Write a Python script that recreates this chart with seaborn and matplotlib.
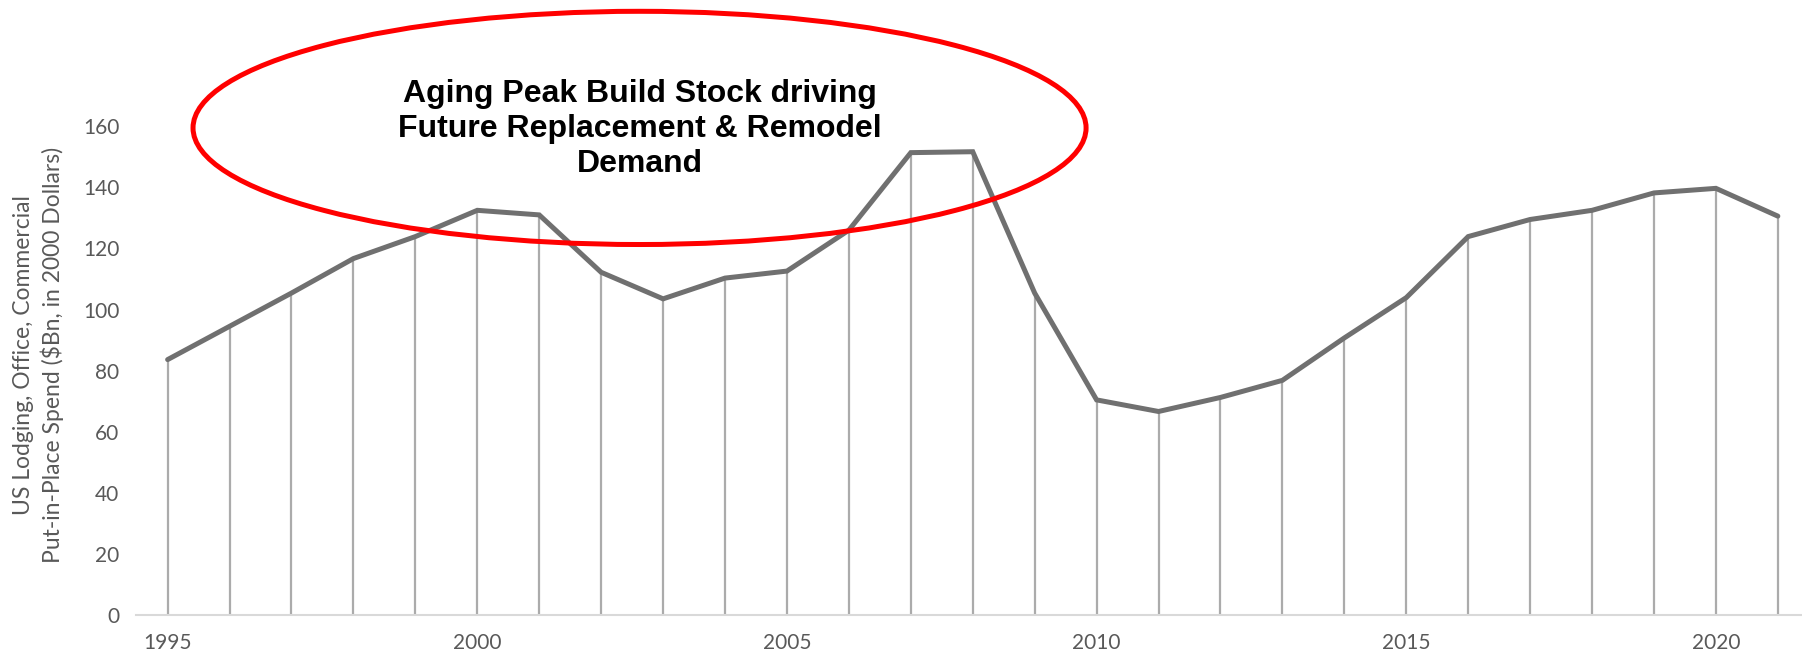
import matplotlib
matplotlib.use("Agg")
import matplotlib.pyplot as plt
from matplotlib.patches import Ellipse
import seaborn as sns
import pandas as pd

years = list(range(1995, 2022))
spend = [83.6, 94.5, 105.4, 116.7, 123.9, 132.5, 131.0, 112.2, 103.5, 110.3,
         112.6, 126.0, 151.4, 151.7, 105.4, 70.4, 66.6, 71.2, 76.8, 90.7,
         103.9, 123.9, 129.5, 132.5, 138.2, 139.7, 130.6]
ytick_vals = [0, 20, 40, 60, 80, 100, 120, 140, 160]
xtick_vals = [1995, 2000, 2005, 2010, 2015, 2020]
ylabel_text = "US Lodging, Office, Commercial\nPut-in-Place Spend ($Bn, in 2000 Dollars)"
callout_text = "Aging Peak Build Stock driving\nFuture Replacement & Remodel\nDemand"

df = pd.DataFrame({"year": years, "spend": spend})

sns.set_style("white")
plt.rcParams['font.family'] = ['Lato', 'DejaVu Sans']

fig = plt.figure(figsize=(18.02, 6.59), dpi=100)
ax = fig.add_axes([0.0755, 0.0671, 0.9245, 0.9264])

ax.vlines(df["year"], 0, df["spend"], color="#ababab", linewidth=1.6, zorder=1)
sns.lineplot(data=df, x="year", y="spend", ax=ax, color="#707070", linewidth=3.6,
             zorder=2, solid_joinstyle="miter")

ax.set_xlim(1994.49, 2021.39)
ax.set_ylim(0, 200)
ax.set_yticks(ytick_vals)
ax.set_xticks(xtick_vals)
ax.tick_params(axis="both", length=0, labelsize=15, labelcolor="#595959")
ax.tick_params(axis="x", pad=13)
ax.tick_params(axis="y", pad=12)

for s in ["top", "right", "left"]:
    ax.spines[s].set_visible(False)
ax.spines["bottom"].set_color("#d9d9d9")
ax.spines["bottom"].set_linewidth(1.5)

ax.set_xlabel("")
ax.set_ylabel(ylabel_text, fontsize=16.5, color="#595959", linespacing=1.35)
ax.yaxis.set_label_coords(-0.043, 160 / 2 / 200 + 0.025)

ell = Ellipse((2002.62, 159.5), 14.42, 76.4, fill=False, edgecolor="#ff0000",
              linewidth=3.6, zorder=3, clip_on=False)
ax.add_patch(ell)
ax.text(2002.62, 159.0, callout_text, ha="center", va="center", fontsize=23,
        fontweight="bold", family=["Liberation Sans", "DejaVu Sans"],
        color="black", linespacing=1.22, zorder=4)

fig.savefig("out.png", dpi=100)
